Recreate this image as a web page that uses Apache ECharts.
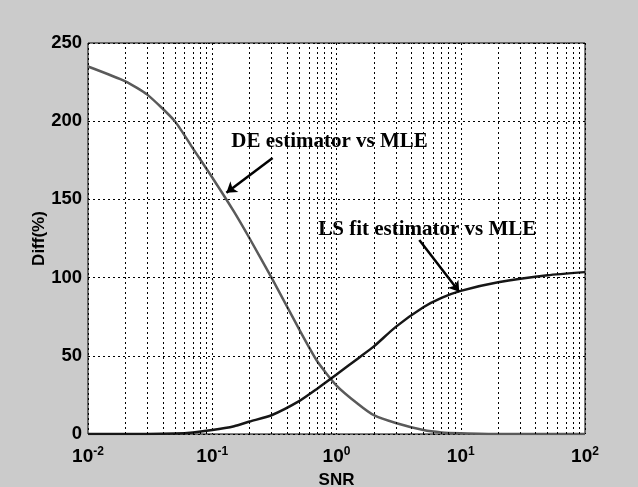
<!DOCTYPE html>
<html>
<head>
<meta charset="utf-8">
<script src="https://cdn.jsdelivr.net/npm/echarts@6/dist/echarts.min.js"></script>
<style>
  html, body { margin: 0; padding: 0; background: #cbcbcb; }
  #chart { width: 638px; height: 487px; }
</style>
</head>
<body>
<div id="chart"></div>
<script>
// values
var snr = [0.01, 0.02, 0.03, 0.05, 0.07, 0.1, 0.15, 0.2, 0.3, 0.5, 0.7, 1, 1.5, 2, 3, 5, 7, 10, 20, 50, 100];
var deDiff = [235, 225.5, 217, 200, 182.5, 164, 142, 125, 100, 67, 46.5, 31, 19, 12, 7, 2.5, 1, 0.5, 0, 0, 0];
var lsDiff = [0, 0, 0, 0.3, 1, 2.5, 5, 8, 12, 21, 29, 38, 48.5, 56, 68.5, 81, 87, 91.5, 97, 101.5, 103.5];
var yTicks = [0, 50, 100, 150, 200, 250];
var minorGrid = [];
[0.01, 0.1, 1, 10].forEach(function (d) {
    for (var k = 2; k <= 9; k++) minorGrid.push(+(d * k).toPrecision(3));
});

var labelDE = 'DE estimator vs MLE';
var labelLS = 'LS fit estimator vs MLE';

function pairs(xs, ys) {
    return xs.map(function (x, i) { return [x, ys[i]]; });
}

var myChart = echarts.init(document.getElementById('chart'));

var dashed = { color: '#000', width: 1, type: [2, 3] };

var option = {
    backgroundColor: '#cbcbcb',
    animation: false,
    grid: {
        left: 88, right: 53, top: 43, bottom: 53,
        outerBoundsMode: 'none',
        show: true, backgroundColor: '#fff', borderColor: '#000', borderWidth: 1
    },
    xAxis: {
        type: 'log',
        logBase: 10,
        min: 0.01,
        max: 100,
        name: 'SNR',
        nameLocation: 'middle',
        nameGap: 38,
        nameMoveOverlap: false,
        nameTextStyle: { fontFamily: 'Liberation Sans', fontWeight: 'bold', fontSize: 17, color: '#000' },
        axisLine: { show: false },
        axisTick: { show: false },
        splitLine: { show: true, lineStyle: dashed },
        axisLabel: {
            margin: 12,
            formatter: function (v) {
                return '{b|10}{s|' + Math.round(Math.log10(v)) + '}';
            },
            rich: {
                b: { fontFamily: 'Liberation Sans', fontWeight: 'bold', fontSize: 19, color: '#000', lineHeight: 22 },
                s: { fontFamily: 'Liberation Sans', fontWeight: 'bold', fontSize: 12, color: '#000', verticalAlign: 'top', lineHeight: 12 }
            }
        }
    },
    yAxis: {
        type: 'value',
        min: yTicks[0],
        max: yTicks[yTicks.length - 1],
        interval: 50,
        name: 'Diff(%)',
        nameLocation: 'middle',
        nameGap: 40,
        nameMoveOverlap: false,
        nameTextStyle: { fontFamily: 'Liberation Sans', fontWeight: 'bold', fontSize: 17, color: '#000' },
        axisLine: { show: false },
        axisTick: { show: false },
        splitLine: { show: true, lineStyle: dashed },
        axisLabel: { margin: 6, fontFamily: 'Liberation Sans', fontWeight: 'bold', fontSize: 18.5, color: '#000' }
    },
    series: [
        {
            // minor log grid lines
            name: 'grid',
            type: 'line',
            data: [],
            silent: true,
            markLine: {
                silent: true,
                symbol: ['none', 'none'],
                label: { show: false },
                lineStyle: dashed,
                data: minorGrid.map(function (v) { return { xAxis: v }; })
            }
        },
        {
            name: labelDE,
            type: 'line',
            data: pairs(snr, deDiff),
            showSymbol: false,
            smooth: 0.2,
            lineStyle: { color: '#5a5a5a', width: 2.5 },
            z: 3
        },
        {
            name: labelLS,
            type: 'line',
            data: pairs(snr, lsDiff),
            showSymbol: false,
            smooth: 0.2,
            lineStyle: { color: '#161616', width: 2.5 },
            z: 4
        },
        {
            // annotations with arrows
            name: 'notes',
            type: 'line',
            data: [],
            silent: true,
            z: 5,
            markPoint: {
                symbol: 'circle',
                symbolSize: 0,
                label: {
                    show: true,
                    position: 'inside',
                    formatter: '{b}',
                    fontFamily: 'Liberation Serif',
                    fontWeight: 'bold',
                    fontSize: 21,
                    color: '#000'
                },
                data: [
                    { name: labelDE, coord: [0.879, 187] },
                    { name: labelLS, coord: [5.38, 131] }
                ]
            },
            markLine: {
                silent: true,
                symbol: ['none', 'arrow'],
                symbolSize: 10,
                label: { show: false },
                lineStyle: { color: '#000', width: 2.5, type: 'solid' },
                data: [
                    [{ coord: [0.306, 176.5] }, { coord: [0.130, 154.3] }],
                    [{ coord: [4.64, 124] }, { coord: [9.72, 91] }]
                ]
            }
        }
    ]
};

myChart.setOption(option);
</script>
</body>
</html>
